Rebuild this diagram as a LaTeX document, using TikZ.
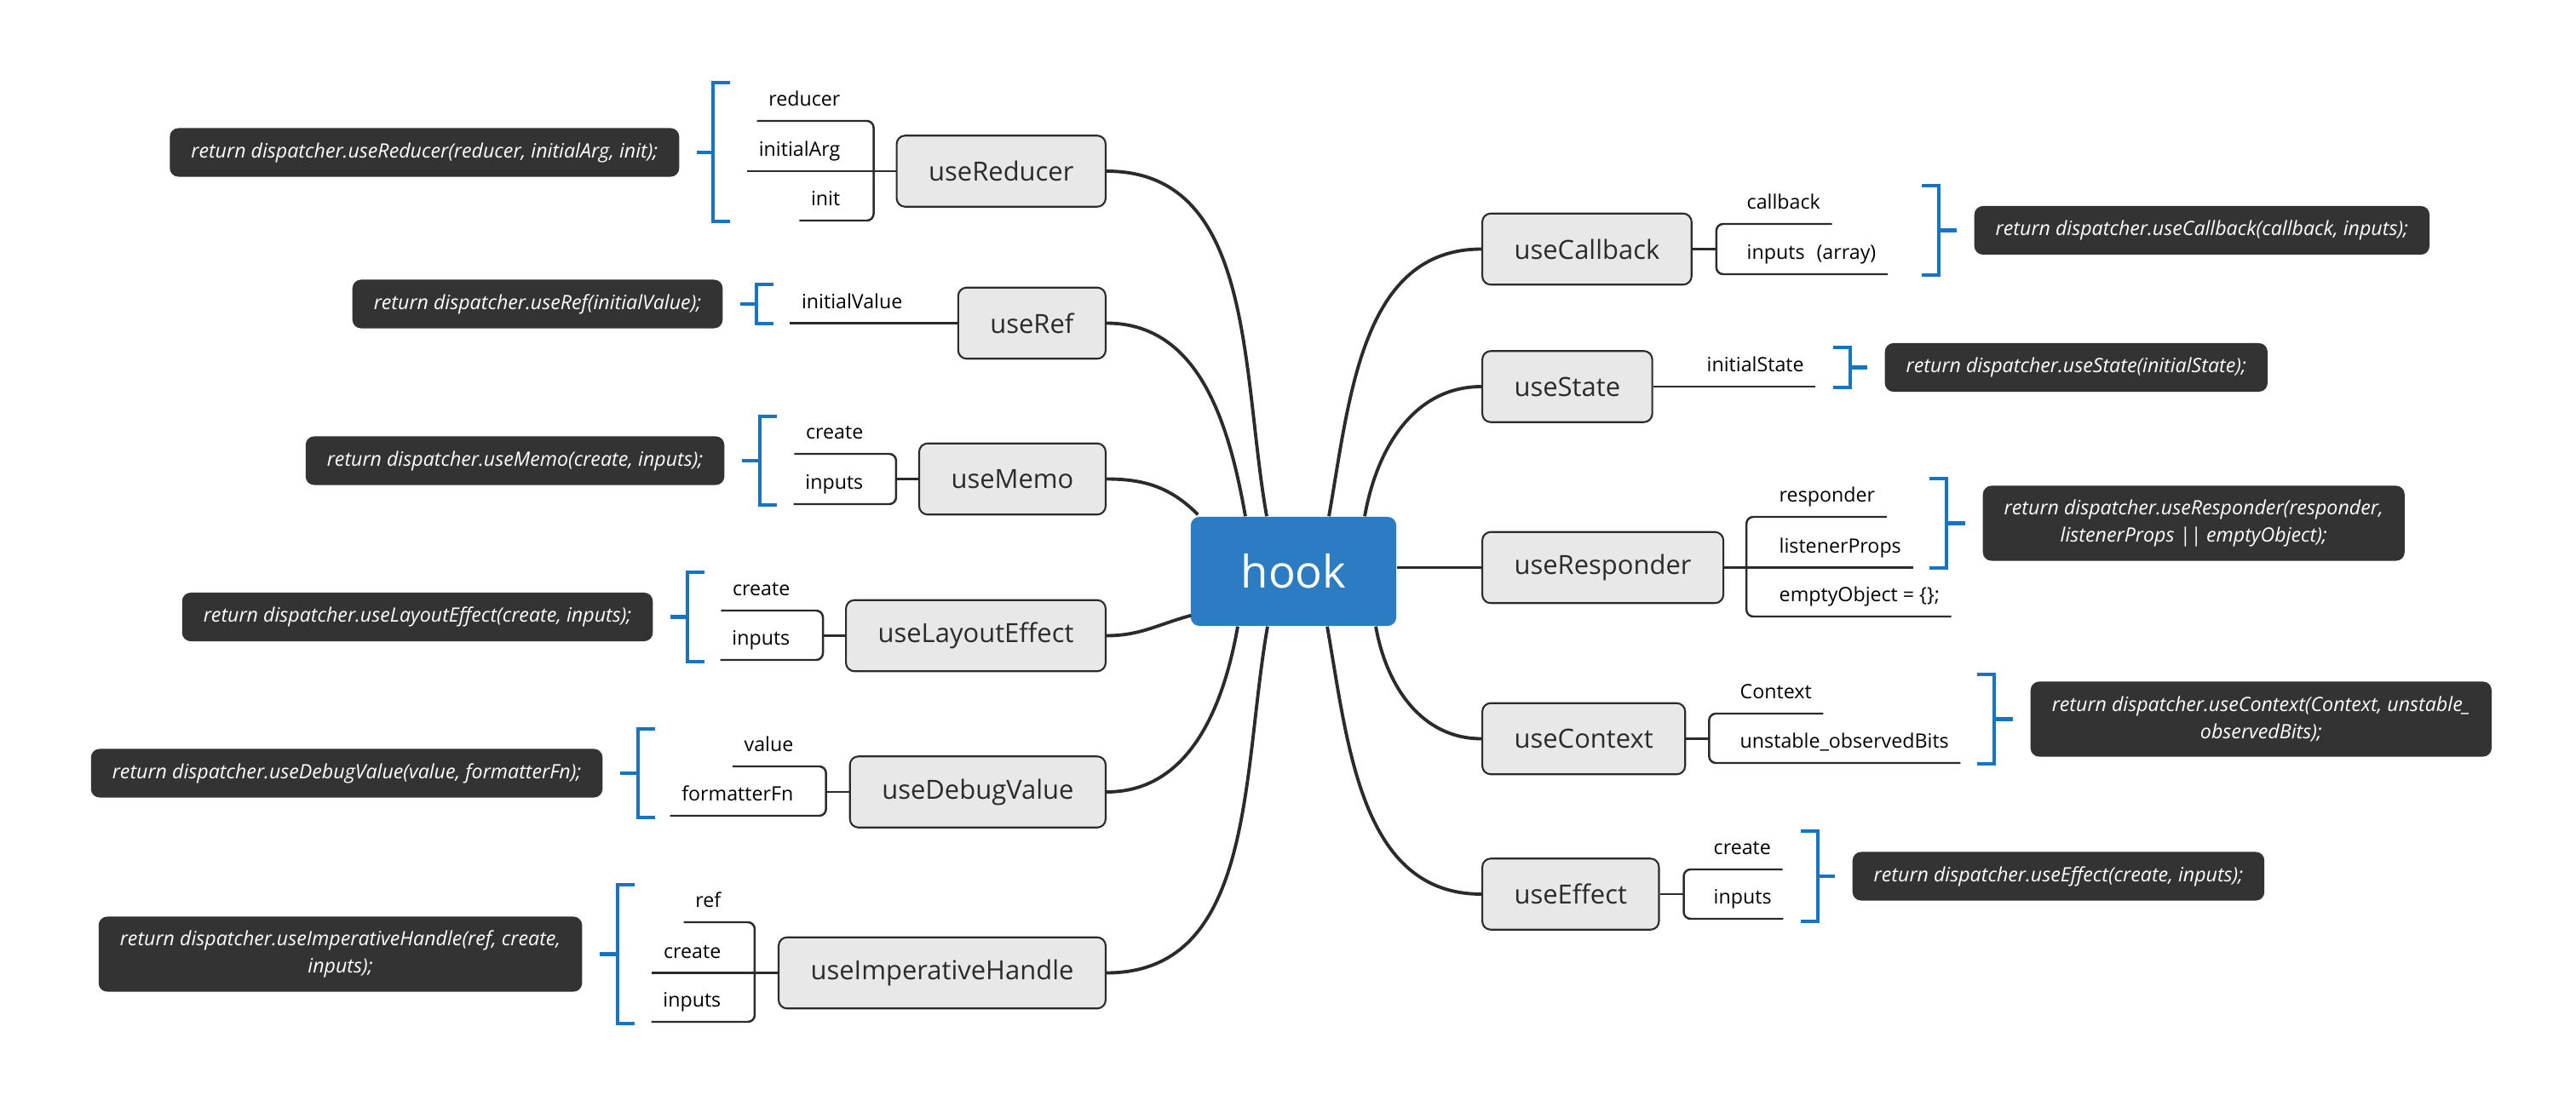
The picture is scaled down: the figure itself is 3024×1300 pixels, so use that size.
\documentclass[tikz,border=0pt]{standalone}
\usepackage{fontspec}
\setmainfont{Open Sans}
\usetikzlibrary{positioning}

\definecolor{hookblue}{HTML}{2C7CC4}
\definecolor{notegray}{HTML}{333333}
\definecolor{topicgray}{HTML}{E8E8E8}
\definecolor{linegray}{HTML}{2B2B2B}
\definecolor{bracketblue}{HTML}{1574C4}

\tikzset{
  hooknode/.style={fill=hookblue, text=white, rounded corners=0.1cm, minimum width=2.41cm, minimum height=1.28cm, font=\fontsize{15}{18}\selectfont},
  topic/.style={draw=linegray, line width=0.6pt, fill=topicgray, rounded corners=0.1cm, minimum height=0.835cm, inner xsep=0.375cm, font=\fontsize{8.8}{10}\selectfont, text=linegray},
  arg/.style={inner xsep=0.13cm, inner ysep=0.165cm, text depth=0pt, font=\fontsize{6.6}{8}\selectfont, text=black},
  note/.style={fill=notegray, text=white, rounded corners=0.1cm, minimum height=0.57cm, inner xsep=0.25cm, align=center, font=\fontsize{6.6}{9}\selectfont\itshape},
  branch/.style={draw=linegray, line width=1.1pt},
  sub/.style={draw=linegray, line width=0.7pt, rounded corners=0.08cm},
  brk/.style={draw=bracketblue, line width=1.2pt},
}

\begin{document}
\begin{tikzpicture}[x=0.01cm, y=-0.01cm]
\useasboundingbox (0,0) rectangle (3024,1300);

% centre
\node[hooknode] (hook) at (1518.5,671) {hook};

% left topics
\node[topic, anchor=east] (useReducer) at (1299,201) {useReducer};
\node[topic, anchor=east] (useRef) at (1299,379.5) {useRef};
\node[topic, anchor=east] (useMemo) at (1299,562.5) {useMemo};
\node[topic, anchor=east] (useLayoutEffect) at (1299,746.5) {useLayoutEffect};
\node[topic, anchor=east] (useDebugValue) at (1299,930) {useDebugValue};
\node[topic, anchor=east] (useImperativeHandle) at (1299,1142.5) {useImperativeHandle};

% right topics
\node[topic, anchor=west] (useCallback) at (1739,292.5) {useCallback};
\node[topic, anchor=west] (useState) at (1739,454) {useState};
\node[topic, anchor=west] (useResponder) at (1739,666.5) {useResponder};
\node[topic, anchor=west] (useContext) at (1739,867.5) {useContext};
\node[topic, anchor=west] (useEffect) at (1739,1050) {useEffect};

% branches
\draw[branch] (useReducer.east) to[out=0,in=100] ([xshift=-0.315cm]hook.north);
\draw[branch] (useRef.east) to[out=0,in=100] ([xshift=-0.565cm]hook.north);
\draw[branch] (useMemo.east) to[out=0,in=135] ([xshift=0.09cm,yshift=0.02cm]hook.north west);
\draw[branch] (useLayoutEffect.east) to[out=0,in=195] ([xshift=0.01cm,yshift=0.13cm]hook.south west);
\draw[branch] (useDebugValue.east) to[out=0,in=-100] ([xshift=-0.655cm]hook.south);
\draw[branch] (useImperativeHandle.east) to[out=0,in=-100] ([xshift=-0.305cm]hook.south);
\draw[branch] (useCallback.west) to[out=180,in=80] ([xshift=0.415cm]hook.north);
\draw[branch] (useState.west) to[out=180,in=80] ([xshift=0.835cm]hook.north);
\draw[branch] (useResponder.west) -- (hook.east |- useResponder.west);
\draw[branch] (useContext.west) to[out=180,in=-80] ([xshift=0.965cm]hook.south);
\draw[branch] (useEffect.west) to[out=180,in=-80] ([xshift=0.395cm]hook.south);

% useReducer
\node[arg, anchor=south east] (reducer) at (1000,142) {reducer};
\node[arg, anchor=south east] (initialArg) at (1000,201) {initialArg};
\node[arg, anchor=south east] (init) at (1000,259) {init};
\draw[sub] (reducer.south west) -| ([xshift=-0.26cm]useReducer.west) |- (init.south west);
\draw[sub] (initialArg.south west) -- (useReducer.west);
\node[note, anchor=east] (reducerNote) at (798,179) {return dispatcher.useReducer(reducer, initialArg, init);};
\draw[brk] (857,97) -- (837,97) -- (837,260) -- (857,260);
\draw[brk] (837,179) -- ([xshift=0.2cm]reducerNote.east);

% useRef
\node[arg, anchor=south east] (initialValue) at (1073,379.5) {initialValue};
\draw[sub] (initialValue.south west) -- (useRef.west);
\node[note, anchor=east] (refNote) at (849,357) {return dispatcher.useRef(initialValue);};
\draw[brk] (908,334) -- (888,334) -- (888,380) -- (908,380);
\draw[brk] (888,357) -- ([xshift=0.2cm]refNote.east);

% useMemo
\node[arg, anchor=south east] (memoCreate) at (1027,533) {create};
\node[arg, anchor=south east] (memoInputs) at (1027,592) {inputs};
\draw[sub] (memoCreate.south west) -| ([xshift=-0.26cm]useMemo.west) |- (memoInputs.south west);
\draw[sub] ([xshift=-0.26cm]useMemo.west) -- (useMemo.west);
\node[note, anchor=east] (memoNote) at (851,541) {return dispatcher.useMemo(create, inputs);};
\draw[brk] (912,489) -- (892,489) -- (892,593) -- (912,593);
\draw[brk] (892,541) -- ([xshift=0.2cm]memoNote.east);

% useLayoutEffect
\node[arg, anchor=south east] (layoutCreate) at (941,717) {create};
\node[arg, anchor=south east] (layoutInputs) at (941,775) {inputs};
\draw[sub] (layoutCreate.south west) -| ([xshift=-0.26cm]useLayoutEffect.west) |- (layoutInputs.south west);
\draw[sub] ([xshift=-0.26cm]useLayoutEffect.west) -- (useLayoutEffect.west);
\node[note, anchor=east] (layoutNote) at (767,724.5) {return dispatcher.useLayoutEffect(create, inputs);};
\draw[brk] (827,672) -- (807,672) -- (807,777) -- (827,777);
\draw[brk] (807,724.5) -- ([xshift=0.2cm]layoutNote.east);

% useDebugValue
\node[arg, anchor=south east] (debugValue) at (945,900) {value};
\node[arg, anchor=south east] (formatterFn) at (945,958) {formatterFn};
\draw[sub] (debugValue.south west) -| ([xshift=-0.27cm]useDebugValue.west) |- (formatterFn.south west);
\draw[sub] ([xshift=-0.27cm]useDebugValue.west) -- (useDebugValue.west);
\node[note, anchor=east] (debugNote) at (708,908) {return dispatcher.useDebugValue(value, formatterFn);};
\draw[brk] (769,856) -- (749,856) -- (749,960) -- (769,960);
\draw[brk] (749,908) -- ([xshift=0.2cm]debugNote.east);

% useImperativeHandle
\node[arg, anchor=south east] (handleRef) at (860,1083) {ref};
\node[arg, anchor=south east] (handleCreate) at (860,1142.5) {create};
\node[arg, anchor=south east] (handleInputs) at (860,1200) {inputs};
\draw[sub] (handleRef.south west) -| ([xshift=-0.27cm]useImperativeHandle.west) |- (handleInputs.south west);
\draw[sub] (handleCreate.south west) -- (useImperativeHandle.west);
\node[note, anchor=east, minimum height=0.88cm] (handleNote) at (684,1120.5) {return dispatcher.useImperativeHandle(ref, create,\\ inputs);};
\draw[brk] (745,1039) -- (725,1039) -- (725,1202) -- (745,1202);
\draw[brk] (725,1120.5) -- ([xshift=0.2cm]handleNote.east);

% useCallback
\node[arg, anchor=south west] (callback) at (2037,263) {callback};
\node[arg, anchor=south west] (callbackInputs) at (2037,322) {inputs\hspace{0.14cm}(array)\hspace{0.17cm}};
\draw[sub] (callback.south east) -| ([xshift=0.28cm]useCallback.east) |- (callbackInputs.south east);
\draw[sub] ([xshift=0.28cm]useCallback.east) -- (useCallback.east);
\node[note, anchor=west] (callbackNote) at (2317,270.5) {return dispatcher.useCallback(callback, inputs);};
\draw[brk] (2256,218) -- (2276,218) -- (2276,323) -- (2256,323);
\draw[brk] (2276,270.5) -- ([xshift=-0.2cm]callbackNote.west);

% useState
\node[arg, anchor=south west] (initialState) at (1990,454) {initialState};
\draw[sub] (useState.east) -- (initialState.south east);
\node[note, anchor=west] (stateNote) at (2212,431.5) {return dispatcher.useState(initialState);};
\draw[brk] (2152,408) -- (2172,408) -- (2172,455) -- (2152,455);
\draw[brk] (2172,431.5) -- ([xshift=-0.2cm]stateNote.west);

% useResponder
\node[arg, anchor=south west] (responder) at (2075,607) {responder};
\node[arg, anchor=south west] (listenerProps) at (2075,666.5) {listenerProps};
\node[arg, anchor=south west] (emptyObject) at (2075,724) {emptyObject = \{\};};
\draw[sub] (responder.south east) -| ([xshift=0.26cm]useResponder.east) |- (emptyObject.south east);
\draw[sub] (useResponder.east) -- (listenerProps.south east);
\node[note, anchor=west, minimum height=0.88cm] (responderNote) at (2327,614.5) {return dispatcher.useResponder(responder,\\ listenerProps || emptyObject);};
\draw[brk] (2265,562) -- (2285,562) -- (2285,667) -- (2265,667);
\draw[brk] (2285,614.5) -- ([xshift=-0.2cm]responderNote.west);

% useContext
\node[arg, anchor=south west] (contextArg) at (2029,838) {Context};
\node[arg, anchor=south west] (observedBits) at (2029,896) {unstable\_observedBits};
\draw[sub] (contextArg.south east) -| ([xshift=0.27cm]useContext.east) |- (observedBits.south east);
\draw[sub] ([xshift=0.27cm]useContext.east) -- (useContext.east);
\node[note, anchor=west, minimum height=0.88cm] (contextNote) at (2383,844.5) {return dispatcher.useContext(Context, unstable\_\\ observedBits);};
\draw[brk] (2321,792) -- (2341,792) -- (2341,897) -- (2321,897);
\draw[brk] (2341,844.5) -- ([xshift=-0.2cm]contextNote.west);

% useEffect
\node[arg, anchor=south west] (effectCreate) at (1998,1021) {create};
\node[arg, anchor=south west] (effectInputs) at (1998,1079) {inputs};
\draw[sub] (effectCreate.south east) -| ([xshift=0.28cm]useEffect.east) |- (effectInputs.south east);
\draw[sub] ([xshift=0.28cm]useEffect.east) -- (useEffect.east);
\node[note, anchor=west] (effectNote) at (2174,1029) {return dispatcher.useEffect(create, inputs);};
\draw[brk] (2114,976) -- (2134,976) -- (2134,1082) -- (2114,1082);
\draw[brk] (2134,1029) -- ([xshift=-0.2cm]effectNote.west);
\end{tikzpicture}
\end{document}
